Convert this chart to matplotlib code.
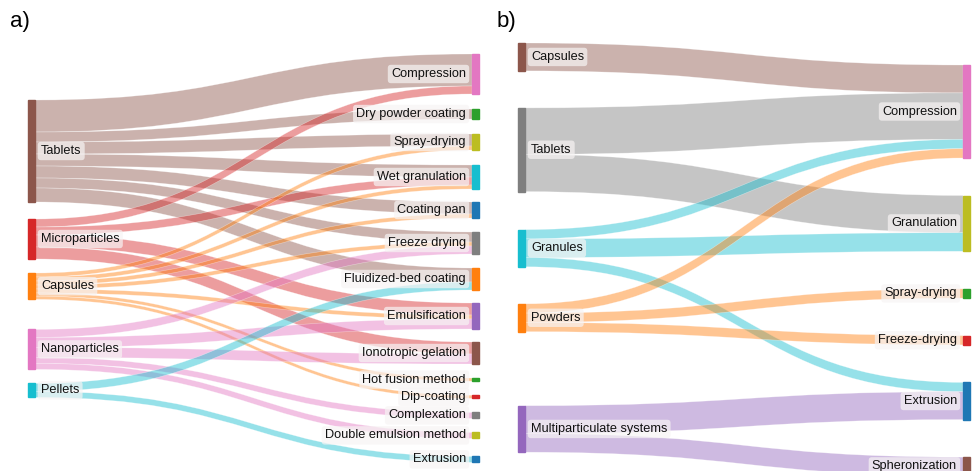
import numpy as np
import matplotlib.pyplot as plt
from matplotlib.path import Path
from matplotlib.patches import PathPatch, Rectangle

plt.rcParams['font.family'] = ['Liberation Sans', 'DejaVu Sans']

# ---- panel a: delivery systems -> manufacturing processes ----
a_sources = ['Tablets', 'Microparticles', 'Capsules', 'Nanoparticles', 'Pellets']
a_source_colors = ['#8c564b', '#d62728', '#ff7f0e', '#e377c2', '#17becf']
a_targets = ['Compression', 'Dry powder coating', 'Spray-drying', 'Wet granulation',
             'Coating pan', 'Freeze drying', 'Fluidized-bed coating', 'Emulsification',
             'Ionotropic gelation', 'Hot fusion method', 'Dip-coating', 'Complexation',
             'Double emulsion method', 'Extrusion']
a_target_colors = ['#e377c2', '#2ca02c', '#bcbd22', '#17becf', '#1f77b4', '#7f7f7f',
                   '#ff7f0e', '#9467bd', '#8c564b', '#2ca02c', '#d62728', '#7f7f7f',
                   '#bcbd22', '#1f77b4']
a_link_src = ['Tablets'] * 7 + ['Microparticles'] * 4 + ['Capsules'] * 7 \
    + ['Nanoparticles'] * 5 + ['Pellets'] * 2
a_link_tgt = ['Compression', 'Dry powder coating', 'Spray-drying', 'Wet granulation',
              'Coating pan', 'Freeze drying', 'Fluidized-bed coating',
              'Compression', 'Wet granulation', 'Emulsification', 'Ionotropic gelation',
              'Spray-drying', 'Wet granulation', 'Coating pan', 'Freeze drying',
              'Emulsification', 'Hot fusion method', 'Dip-coating',
              'Freeze drying', 'Emulsification', 'Ionotropic gelation', 'Complexation',
              'Double emulsion method',
              'Fluidized-bed coating', 'Extrusion']
a_link_val = [8, 2.5, 3, 3, 3, 2.5, 3.5,
              2, 2, 3, 3,
              1, 1, 1, 1, 1, 0.8, 0.8,
              2, 2.5, 2.5, 1.5, 1.5,
              2, 1.5]

# ---- panel b: dosage forms -> unit operations ----
b_sources = ['Capsules', 'Tablets', 'Granules', 'Powders', 'Multiparticulate systems']
b_source_colors = ['#8c564b', '#7f7f7f', '#17becf', '#ff7f0e', '#9467bd']
b_targets = ['Compression', 'Granulation', 'Spray-drying', 'Freeze-drying',
             'Extrusion', 'Spheronization']
b_target_colors = ['#e377c2', '#bcbd22', '#2ca02c', '#d62728', '#1f77b4', '#8c564b']
b_link_src = ['Capsules', 'Tablets', 'Tablets', 'Granules', 'Granules', 'Granules',
              'Powders', 'Powders', 'Powders',
              'Multiparticulate systems', 'Multiparticulate systems']
b_link_tgt = ['Compression', 'Compression', 'Granulation', 'Compression', 'Granulation',
              'Extrusion', 'Compression', 'Spray-drying', 'Freeze-drying',
              'Extrusion', 'Spheronization']
b_link_val = [3, 5, 4, 1, 2, 1, 1, 1, 1, 3, 2]


def stack(names, heights, start, gaps):
    tops = {}
    y = start
    for i, n in enumerate(names):
        tops[n] = y
        y += heights[n]
        if i < len(names) - 1:
            y += gaps[i] if np.iterable(gaps) else gaps
    return tops


def draw_sankey(ax, sources, src_colors, targets, tgt_colors, link_src, link_tgt,
                link_val, x_left, x_right, scale, left_start, left_gaps,
                right_start, right_gaps, node_w=7, alpha=0.45):
    h_src = {n: 0.0 for n in sources}
    h_tgt = {n: 0.0 for n in targets}
    for s, t, v in zip(link_src, link_tgt, link_val):
        h_src[s] += v * scale
        h_tgt[t] += v * scale
    top_src = stack(sources, h_src, left_start, left_gaps)
    top_tgt = stack(targets, h_tgt, right_start, right_gaps)
    mid_src = {n: top_src[n] + h_src[n] / 2 for n in sources}
    mid_tgt = {n: top_tgt[n] + h_tgt[n] / 2 for n in targets}

    idx = range(len(link_val))
    # slot each link at its source, ordered by where it lands
    s_off = {}
    for n in sources:
        y = top_src[n]
        for i in sorted([i for i in idx if link_src[i] == n],
                        key=lambda i: mid_tgt[link_tgt[i]]):
            s_off[i] = y
            y += link_val[i] * scale
    t_off = {}
    for n in targets:
        y = top_tgt[n]
        for i in sorted([i for i in idx if link_tgt[i] == n],
                        key=lambda i: mid_src[link_src[i]]):
            t_off[i] = y
            y += link_val[i] * scale

    x0 = x_left + node_w
    x1 = x_right
    xm = (x0 + x1) / 2
    scol = dict(zip(sources, src_colors))
    for i in idx:
        w = link_val[i] * scale
        a0, a1 = s_off[i], s_off[i] + w
        b0, b1 = t_off[i], t_off[i] + w
        verts = [(x0, a0), (xm, a0), (xm, b0), (x1, b0),
                 (x1, b1), (xm, b1), (xm, a1), (x0, a1), (x0, a0)]
        codes = [Path.MOVETO, Path.CURVE4, Path.CURVE4, Path.CURVE4,
                 Path.LINETO, Path.CURVE4, Path.CURVE4, Path.CURVE4, Path.CLOSEPOLY]
        ax.add_patch(PathPatch(Path(verts, codes), facecolor=scol[link_src[i]],
                               alpha=alpha, edgecolor='white', lw=0.4, zorder=1))

    box = dict(boxstyle='round,pad=0.25,rounding_size=0.25', fc='#f7f4f4',
               ec='none', alpha=0.7)
    for n, c in zip(sources, src_colors):
        ax.add_patch(Rectangle((x_left, top_src[n]), node_w, h_src[n], color=c, zorder=3))
        ax.text(x0 + 6, mid_src[n], n, ha='left', va='center', fontsize=9.2,
                color='#111111', bbox=box, zorder=4)
    for n, c in zip(targets, tgt_colors):
        ax.add_patch(Rectangle((x_right, top_tgt[n]), node_w, h_tgt[n], color=c, zorder=3))
        ax.text(x_right - 6, mid_tgt[n], n, ha='right', va='center', fontsize=9.2,
                color='#111111', bbox=box, zorder=4)


fig = plt.figure(figsize=(9.73, 4.71), dpi=100)
ax = fig.add_axes([0, 0, 1, 1])
ax.set_xlim(0, 973)
ax.set_ylim(471, 0)
ax.axis('off')

draw_sankey(ax, a_sources, a_source_colors, a_targets, a_target_colors,
            a_link_src, a_link_tgt, a_link_val, x_left=28, x_right=472, scale=4.0,
            left_start=100, left_gaps=[17, 14, 30, 14], right_start=54,
            right_gaps=[15, 15, 15, 13, 14, 14, 13, 13, 14, 14, 14, 14, 18])
draw_sankey(ax, b_sources, b_source_colors, b_targets, b_target_colors,
            b_link_src, b_link_tgt, b_link_val, x_left=518, x_right=963, scale=9.3,
            left_start=43, left_gaps=[37, 38, 37, 74], right_start=65, right_gaps=37.5)

ax.text(10, 21, 'a)', fontsize=16, va='center', ha='left')
ax.text(497, 21, 'b)', fontsize=16, va='center', ha='left')

fig.savefig('out.png', dpi=100)
